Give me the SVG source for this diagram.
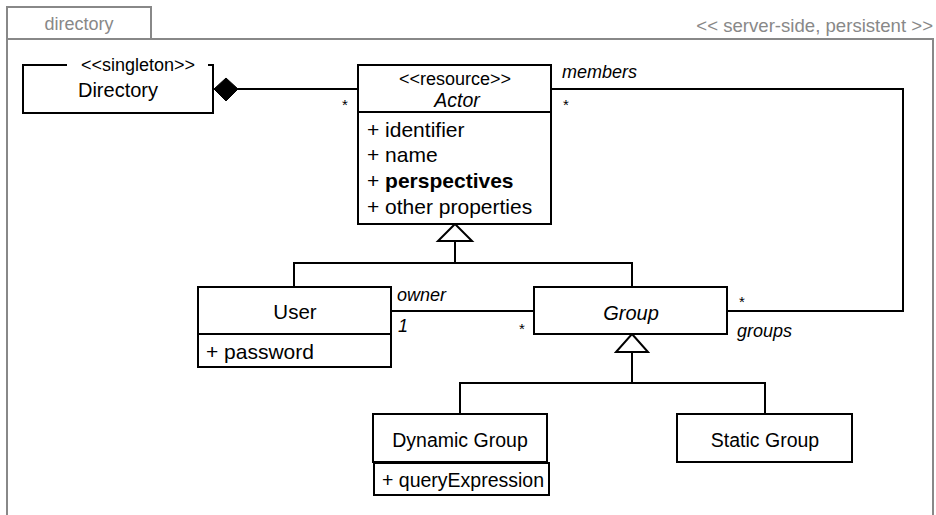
<svg xmlns="http://www.w3.org/2000/svg" width="936" height="515" viewBox="0 0 936 515">
<style>
text{font-family:"Liberation Sans",Arial,sans-serif;fill:#000}
.frame{fill:none;stroke:#888;stroke-width:2}
.ft{font-size:18px;fill:#888}
.box{fill:#fff;stroke:#000;stroke-width:2}
.ln{fill:none;stroke:#000;stroke-width:2}
.nm{font-size:20px;text-anchor:middle}
.it{font-style:italic}
.st{font-size:18px;text-anchor:middle}
.at{font-size:21px}
.lb{font-size:18px;font-style:italic}
.mul{font-size:15px;text-anchor:middle}
</style>
<rect width="936" height="515" fill="#fff"/>
<g id="frame">
<rect class="frame" x="7" y="7" width="144" height="32"/>
<path class="frame" d="M7,515 V39 H933 V515"/>
<text class="ft" x="79" y="30" text-anchor="middle">directory</text>
<text class="ft" x="933" y="32" text-anchor="end" style="font-size:18.6px">&lt;&lt; server-side, persistent &gt;&gt;</text>
</g>
<g id="connectors">
<path class="ln" d="M238,89 H358"/>
<path d="M214,89 L226,78 L238,89 L226,101 Z" fill="#000" stroke="#000" stroke-width="1"/>
<path class="ln" d="M551,89 H903 V311 H727"/>
<path class="ln" d="M391,311 H534"/>
<path class="ln" d="M455,241 V263 M294,287 V263 H632 V287"/>
<path d="M455,224 L472,241 L438,241 Z" fill="#fff" stroke="#000" stroke-width="2"/>
<path class="ln" d="M632,352 V383 M460,414 V383 H765 V414"/>
<path d="M632,334 L648,352 L616,352 Z" fill="#fff" stroke="#000" stroke-width="2"/>
<text class="mul" x="345" y="110">*</text>
<text class="lb" x="562" y="78">members</text>
<text class="mul" x="566" y="110">*</text>
<text class="lb" x="397" y="301">owner</text>
<text class="lb" x="398" y="332">1</text>
<text class="mul" x="522" y="334">*</text>
<text class="mul" x="742" y="307">*</text>
<text class="lb" x="737" y="337">groups</text>
</g>
<g id="directory">
<path class="ln" d="M67,65 H23 V113 H213 V65 H208"/>
<text class="st" x="138" y="71">&lt;&lt;singleton&gt;&gt;</text>
<text class="nm" x="118" y="97">Directory</text>
</g>
<g id="actor">
<rect class="box" x="358" y="65" width="193" height="159"/>
<path class="ln" d="M358,112 H551"/>
<text class="st" x="455" y="85">&lt;&lt;resource&gt;&gt;</text>
<text class="nm it" x="457" y="107" style="font-size:19.5px">Actor</text>
<text class="at" x="367" y="137">+ identifier</text>
<text class="at" x="367" y="162">+ name</text>
<text class="at" x="367" y="188">+ <tspan font-weight="bold">perspectives</tspan></text>
<text class="at" x="367" y="214">+ other properties</text>
</g>
<g id="user">
<rect class="box" x="198" y="287" width="193" height="80"/>
<path class="ln" d="M198,334 H391"/>
<text class="nm" x="295" y="319" style="font-size:20.5px">User</text>
<text class="at" x="206" y="359">+ password</text>
</g>
<g id="group">
<rect class="box" x="534" y="287" width="193" height="47"/>
<text class="nm it" x="631" y="320">Group</text>
</g>
<g id="dynamic-group">
<rect class="box" x="373" y="414" width="174" height="48"/>
<rect class="box" x="374" y="463" width="175" height="32"/>
<text class="nm" x="460" y="447" style="font-size:19.5px">Dynamic Group</text>
<text class="at" x="382" y="487" style="font-size:19.5px">+ queryExpression</text>
</g>
<g id="static-group">
<rect class="box" x="677" y="414" width="175" height="48"/>
<text class="nm" x="765" y="447" style="font-size:19.5px">Static Group</text>
</g>
</svg>
